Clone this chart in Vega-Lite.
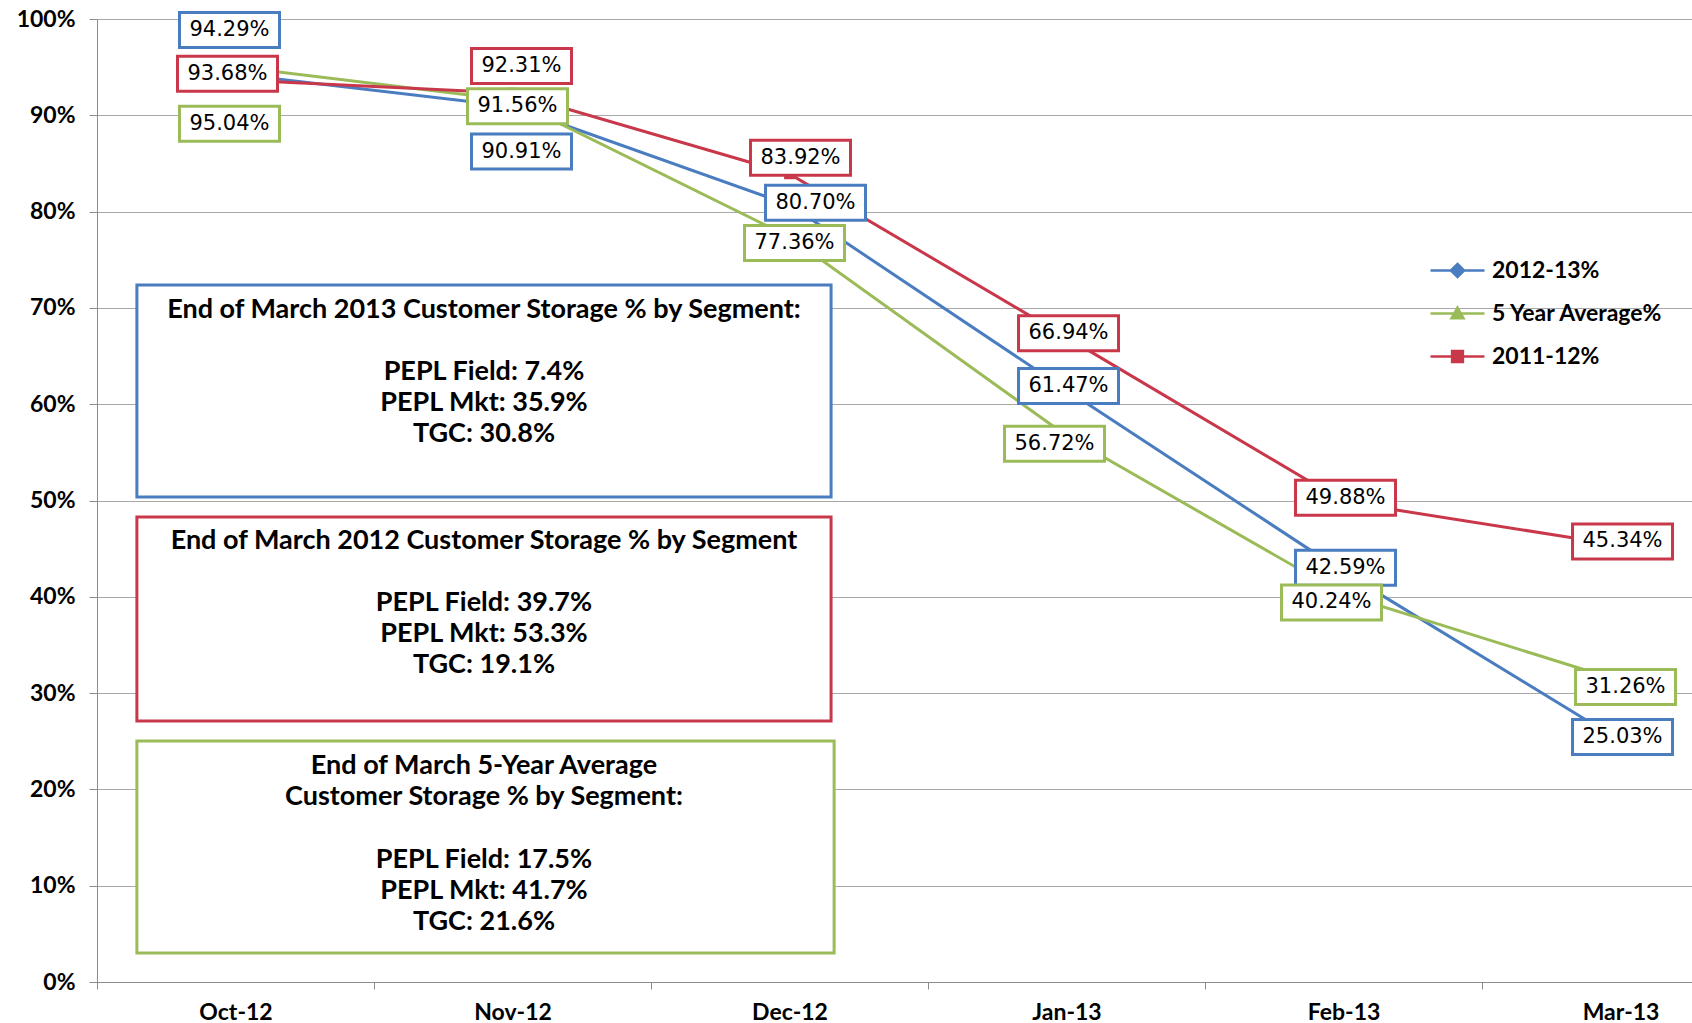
{
  "$schema": "https://vega.github.io/schema/vega-lite/v6.json",
  "width": 1595,
  "height": 963,
  "autosize": {"type": "none"},
  "padding": {"left": 97, "top": 19, "right": 0, "bottom": 41},
  "background": "white",
  "config": {"view": {"stroke": null}, "font": "Lato", "axis": {"title": null}},
  "datasets": {
    "storage": [
      {"month": "Oct-12", "i": 0, "series": "2012-13%", "value": 0.9429},
      {"month": "Nov-12", "i": 1, "series": "2012-13%", "value": 0.9091},
      {"month": "Dec-12", "i": 2, "series": "2012-13%", "value": 0.8070},
      {"month": "Jan-13", "i": 3, "series": "2012-13%", "value": 0.6147},
      {"month": "Feb-13", "i": 4, "series": "2012-13%", "value": 0.4259},
      {"month": "Mar-13", "i": 5, "series": "2012-13%", "value": 0.2503},
      {"month": "Oct-12", "i": 0, "series": "5 Year Average%", "value": 0.9504},
      {"month": "Nov-12", "i": 1, "series": "5 Year Average%", "value": 0.9156},
      {"month": "Dec-12", "i": 2, "series": "5 Year Average%", "value": 0.7736},
      {"month": "Jan-13", "i": 3, "series": "5 Year Average%", "value": 0.5672},
      {"month": "Feb-13", "i": 4, "series": "5 Year Average%", "value": 0.4024},
      {"month": "Mar-13", "i": 5, "series": "5 Year Average%", "value": 0.3126},
      {"month": "Oct-12", "i": 0, "series": "2011-12%", "value": 0.9368},
      {"month": "Nov-12", "i": 1, "series": "2011-12%", "value": 0.9231},
      {"month": "Dec-12", "i": 2, "series": "2011-12%", "value": 0.8392},
      {"month": "Jan-13", "i": 3, "series": "2011-12%", "value": 0.6694},
      {"month": "Feb-13", "i": 4, "series": "2011-12%", "value": 0.4988},
      {"month": "Mar-13", "i": 5, "series": "2011-12%", "value": 0.4534}
    ]
  },
  "data": {"name": "storage"},
  "layer": [
    {
      "mark": {"type": "line", "strokeWidth": 3},
      "encoding": {
        "x": {
          "field": "i", "type": "quantitative",
          "scale": {"domain": [-0.5, 5.258], "nice": false, "zero": false},
          "axis": {
            "values": [-0.5, 0.5, 1.5, 2.5, 3.5, 4.5],
            "labelExpr": "['Oct-12','Nov-12','Dec-12','Jan-13','Feb-13','Mar-13'][round(datum.value + 0.5)]",
            "labelOffset": 138.5, "labelFlush": false, "labelOverlap": false, "labelBound": false,
            "labelFont": "Lato", "labelFontWeight": "bold", "labelFontSize": 23, "labelColor": "#000000",
            "labelBaseline": "top", "labelPadding": 12,
            "tickSize": 7, "tickColor": "#8C8C8C", "domainColor": "#8C8C8C", "grid": false
          }
        },
        "y": {
          "field": "value", "type": "quantitative",
          "scale": {"domain": [0, 1], "nice": false, "zero": true},
          "axis": {
            "values": [0, 0.1, 0.2, 0.3, 0.4, 0.5, 0.6, 0.7, 0.8, 0.9, 1],
            "format": ".0%", "labelFont": "Lato", "labelFontWeight": "bold", "labelFontSize": 23,
            "labelColor": "#000000", "labelPadding": 14, "tickSize": 8, "tickColor": "#8C8C8C",
            "domainColor": "#8C8C8C", "grid": true, "gridColor": "#A8A8A8", "gridWidth": 1
          }
        },
        "stroke": {
          "field": "series", "legend": null,
          "scale": {"range": ["#C8384A", "#4A7CC0", "#9BBB59"]}
        }
      }
    },
    {
      "data": {"values": [
        {"part": "title", "t": ["End of March 2013 Customer Storage % by Segment:"]},
        {"part": "body", "t": ["PEPL Field: 7.4%", "PEPL Mkt: 35.9%", "TGC: 30.8%"]}
      ]},
      "layer": [
        {"transform": [{"filter": "datum.part == 'title'"}],
         "mark": {"type": "rect", "fill": "white", "stroke": "#4A7CC0", "strokeWidth": 3},
         "encoding": {"x": {"datum": -0.356, "type": "quantitative"}, "x2": {"datum": 2.150}, "y": {"datum": 0.7238, "type": "quantitative"}, "y2": {"datum": 0.5036}}},
        {"transform": [{"filter": "datum.part == 'title'"}],
         "mark": {"type": "text", "font": "Lato", "fontWeight": "bold", "fontSize": 27, "lineHeight": 31, "baseline": "middle", "align": "center", "color": "#000000"},
         "encoding": {"x": {"datum": 0.897, "type": "quantitative"}, "y": {"datum": 0.6978, "type": "quantitative"}, "text": {"field": "t"}}},
        {"transform": [{"filter": "datum.part == 'body'"}],
         "mark": {"type": "text", "font": "Lato", "fontWeight": "bold", "fontSize": 27, "lineHeight": 31, "baseline": "middle", "align": "center", "color": "#000000"},
         "encoding": {"x": {"datum": 0.897, "type": "quantitative"}, "y": {"datum": 0.6334, "type": "quantitative"}, "text": {"field": "t"}}}
      ]
    },
    {
      "data": {"values": [
        {"part": "title", "t": ["End of March 2012 Customer Storage % by Segment"]},
        {"part": "body", "t": ["PEPL Field: 39.7%", "PEPL Mkt: 53.3%", "TGC: 19.1%"]}
      ]},
      "layer": [
        {"transform": [{"filter": "datum.part == 'title'"}],
         "mark": {"type": "rect", "fill": "white", "stroke": "#C8384A", "strokeWidth": 3},
         "encoding": {"x": {"datum": -0.356, "type": "quantitative"}, "x2": {"datum": 2.150}, "y": {"datum": 0.4829, "type": "quantitative"}, "y2": {"datum": 0.2710}}},
        {"transform": [{"filter": "datum.part == 'title'"}],
         "mark": {"type": "text", "font": "Lato", "fontWeight": "bold", "fontSize": 27, "lineHeight": 31, "baseline": "middle", "align": "center", "color": "#000000"},
         "encoding": {"x": {"datum": 0.897, "type": "quantitative"}, "y": {"datum": 0.4579, "type": "quantitative"}, "text": {"field": "t"}}},
        {"transform": [{"filter": "datum.part == 'body'"}],
         "mark": {"type": "text", "font": "Lato", "fontWeight": "bold", "fontSize": 27, "lineHeight": 31, "baseline": "middle", "align": "center", "color": "#000000"},
         "encoding": {"x": {"datum": 0.897, "type": "quantitative"}, "y": {"datum": 0.3936, "type": "quantitative"}, "text": {"field": "t"}}}
      ]
    },
    {
      "data": {"values": [
        {"part": "title", "t": ["End of March 5-Year Average", "Customer Storage % by Segment:"]},
        {"part": "body", "t": ["PEPL Field: 17.5%", "PEPL Mkt: 41.7%", "TGC: 21.6%"]}
      ]},
      "layer": [
        {"transform": [{"filter": "datum.part == 'title'"}],
         "mark": {"type": "rect", "fill": "white", "stroke": "#9BBB59", "strokeWidth": 3},
         "encoding": {"x": {"datum": -0.356, "type": "quantitative"}, "x2": {"datum": 2.161}, "y": {"datum": 0.2503, "type": "quantitative"}, "y2": {"datum": 0.0301}}},
        {"transform": [{"filter": "datum.part == 'title'"}],
         "mark": {"type": "text", "font": "Lato", "fontWeight": "bold", "fontSize": 27, "lineHeight": 31, "baseline": "middle", "align": "center", "color": "#000000"},
         "encoding": {"x": {"datum": 0.897, "type": "quantitative"}, "y": {"datum": 0.2243, "type": "quantitative"}, "text": {"field": "t"}}},
        {"transform": [{"filter": "datum.part == 'body'"}],
         "mark": {"type": "text", "font": "Lato", "fontWeight": "bold", "fontSize": 27, "lineHeight": 31, "baseline": "middle", "align": "center", "color": "#000000"},
         "encoding": {"x": {"datum": 0.897, "type": "quantitative"}, "y": {"datum": 0.1267, "type": "quantitative"}, "text": {"field": "t"}}}
      ]
    },
    {
      "mark": {"type": "point", "filled": true, "size": 144, "opacity": 1},
      "encoding": {
        "x": {"field": "i", "type": "quantitative"},
        "y": {"field": "value", "type": "quantitative"},
        "color": {
          "field": "series", "title": null,
          "scale": {"domain": ["2012-13%", "5 Year Average%", "2011-12%"], "range": ["#4A7CC0", "#9BBB59", "#C8384A"]},
          "legend": {
            "orient": "none", "legendX": 1349, "legendY": 240, "padding": 0,
            "labelFont": "Lato", "labelFontSize": 23, "labelFontWeight": "bold", "labelColor": "#000000", "labelLimit": 0,
            "symbolSize": 144, "labelOffset": 23, "rowPadding": 19, "symbolStrokeWidth": 2.5, "symbolOpacity": 1,
            "encode": {"symbols": {"update": {"stroke": {"scale": "color", "field": "value"}, "strokeWidth": {"value": 2.5}}}}
          }
        },
        "shape": {
          "field": "series", "title": null,
          "scale": {
            "domain": ["2012-13%", "5 Year Average%", "2011-12%"],
            "range": ["M-4.5,0H4.5M0,-1.1L1.1,0L0,1.1L-1.1,0Z", "M-4.5,0H4.5M0,-1L1,0.8H-1Z", "M-4.5,0H4.5M-0.9,-0.9H0.9V0.9H-0.9Z"]
          }
        }
      }
    },
    {
      "transform": [{"filter": "(datum.series == '2012-13%' || datum.series == '2011-12%') && datum.i >= 3"}],
      "layer": [
        {"mark": {"type": "point", "shape": "M-2.857,-1H2.857V1H-2.857Z", "size": 1225, "fill": "white", "filled": false, "opacity": 1, "strokeWidth": 3, "xOffset": 2, "yOffset": -4},
         "encoding": {"x": {"field": "i", "type": "quantitative"}, "y": {"field": "value", "type": "quantitative"}, "stroke": {"field": "series", "legend": null}}},
        {"mark": {"type": "text", "font": "DejaVu Sans", "fontSize": 21, "color": "#000000", "xOffset": 2, "yOffset": -4},
         "encoding": {"x": {"field": "i", "type": "quantitative"}, "y": {"field": "value", "type": "quantitative"}, "text": {"field": "value", "format": ".2%"}}}
      ]
    },
    {
      "transform": [{"filter": "datum.series == '5 Year Average%' && (datum.i == 1 || datum.i == 2 || datum.i == 5)"}],
      "layer": [
        {"mark": {"type": "point", "shape": "M-2.857,-1H2.857V1H-2.857Z", "size": 1225, "fill": "white", "filled": false, "opacity": 1, "strokeWidth": 3, "xOffset": 5, "yOffset": 6},
         "encoding": {"x": {"field": "i", "type": "quantitative"}, "y": {"field": "value", "type": "quantitative"}, "stroke": {"field": "series", "legend": null}}},
        {"mark": {"type": "text", "font": "DejaVu Sans", "fontSize": 21, "color": "#000000", "xOffset": 5, "yOffset": 6},
         "encoding": {"x": {"field": "i", "type": "quantitative"}, "y": {"field": "value", "type": "quantitative"}, "text": {"field": "value", "format": ".2%"}}}
      ]
    },
    {
      "transform": [{"filter": "datum.series == '5 Year Average%' && (datum.i == 3 || datum.i == 4)"}],
      "layer": [
        {"mark": {"type": "point", "shape": "M-2.857,-1H2.857V1H-2.857Z", "size": 1225, "fill": "white", "filled": false, "opacity": 1, "strokeWidth": 3, "xOffset": -12, "yOffset": 8},
         "encoding": {"x": {"field": "i", "type": "quantitative"}, "y": {"field": "value", "type": "quantitative"}, "stroke": {"field": "series", "legend": null}}},
        {"mark": {"type": "text", "font": "DejaVu Sans", "fontSize": 21, "color": "#000000", "xOffset": -12, "yOffset": 8},
         "encoding": {"x": {"field": "i", "type": "quantitative"}, "y": {"field": "value", "type": "quantitative"}, "text": {"field": "value", "format": ".2%"}}}
      ]
    },
    {
      "transform": [{"filter": "datum.series == '5 Year Average%' && datum.i == 0"}],
      "layer": [
        {"mark": {"type": "point", "shape": "M-2.857,-1H2.857V1H-2.857Z", "size": 1225, "fill": "white", "filled": false, "opacity": 1, "strokeWidth": 3, "xOffset": -6, "yOffset": 57},
         "encoding": {"x": {"field": "i", "type": "quantitative"}, "y": {"field": "value", "type": "quantitative"}, "stroke": {"field": "series", "legend": null}}},
        {"mark": {"type": "text", "font": "DejaVu Sans", "fontSize": 21, "color": "#000000", "xOffset": -6, "yOffset": 57},
         "encoding": {"x": {"field": "i", "type": "quantitative"}, "y": {"field": "value", "type": "quantitative"}, "text": {"field": "value", "format": ".2%"}}}
      ]
    },
    {
      "transform": [{"filter": "datum.series == '2012-13%' && datum.i == 0"}],
      "layer": [
        {"mark": {"type": "point", "shape": "M-2.857,-1H2.857V1H-2.857Z", "size": 1225, "fill": "white", "filled": false, "opacity": 1, "strokeWidth": 3, "xOffset": -6, "yOffset": -44},
         "encoding": {"x": {"field": "i", "type": "quantitative"}, "y": {"field": "value", "type": "quantitative"}, "stroke": {"field": "series", "legend": null}}},
        {"mark": {"type": "text", "font": "DejaVu Sans", "fontSize": 21, "color": "#000000", "xOffset": -6, "yOffset": -44},
         "encoding": {"x": {"field": "i", "type": "quantitative"}, "y": {"field": "value", "type": "quantitative"}, "text": {"field": "value", "format": ".2%"}}}
      ]
    },
    {
      "transform": [{"filter": "datum.series == '2012-13%' && datum.i == 1"}],
      "layer": [
        {"mark": {"type": "point", "shape": "M-2.857,-1H2.857V1H-2.857Z", "size": 1225, "fill": "white", "filled": false, "opacity": 1, "strokeWidth": 3, "xOffset": 9, "yOffset": 45},
         "encoding": {"x": {"field": "i", "type": "quantitative"}, "y": {"field": "value", "type": "quantitative"}, "stroke": {"field": "series", "legend": null}}},
        {"mark": {"type": "text", "font": "DejaVu Sans", "fontSize": 21, "color": "#000000", "xOffset": 9, "yOffset": 45},
         "encoding": {"x": {"field": "i", "type": "quantitative"}, "y": {"field": "value", "type": "quantitative"}, "text": {"field": "value", "format": ".2%"}}}
      ]
    },
    {
      "transform": [{"filter": "datum.series == '2012-13%' && datum.i == 2"}],
      "layer": [
        {"mark": {"type": "point", "shape": "M-2.857,-1H2.857V1H-2.857Z", "size": 1225, "fill": "white", "filled": false, "opacity": 1, "strokeWidth": 3, "xOffset": 26, "yOffset": -2},
         "encoding": {"x": {"field": "i", "type": "quantitative"}, "y": {"field": "value", "type": "quantitative"}, "stroke": {"field": "series", "legend": null}}},
        {"mark": {"type": "text", "font": "DejaVu Sans", "fontSize": 21, "color": "#000000", "xOffset": 26, "yOffset": -2},
         "encoding": {"x": {"field": "i", "type": "quantitative"}, "y": {"field": "value", "type": "quantitative"}, "text": {"field": "value", "format": ".2%"}}}
      ]
    },
    {
      "transform": [{"filter": "datum.series == '2011-12%' && datum.i == 0"}],
      "layer": [
        {"mark": {"type": "point", "shape": "M-2.857,-1H2.857V1H-2.857Z", "size": 1225, "fill": "white", "filled": false, "opacity": 1, "strokeWidth": 3, "xOffset": -8, "yOffset": -6},
         "encoding": {"x": {"field": "i", "type": "quantitative"}, "y": {"field": "value", "type": "quantitative"}, "stroke": {"field": "series", "legend": null}}},
        {"mark": {"type": "text", "font": "DejaVu Sans", "fontSize": 21, "color": "#000000", "xOffset": -8, "yOffset": -6},
         "encoding": {"x": {"field": "i", "type": "quantitative"}, "y": {"field": "value", "type": "quantitative"}, "text": {"field": "value", "format": ".2%"}}}
      ]
    },
    {
      "transform": [{"filter": "datum.series == '2011-12%' && datum.i == 1"}],
      "layer": [
        {"mark": {"type": "point", "shape": "M-2.857,-1H2.857V1H-2.857Z", "size": 1225, "fill": "white", "filled": false, "opacity": 1, "strokeWidth": 3, "xOffset": 9, "yOffset": -27},
         "encoding": {"x": {"field": "i", "type": "quantitative"}, "y": {"field": "value", "type": "quantitative"}, "stroke": {"field": "series", "legend": null}}},
        {"mark": {"type": "text", "font": "DejaVu Sans", "fontSize": 21, "color": "#000000", "xOffset": 9, "yOffset": -27},
         "encoding": {"x": {"field": "i", "type": "quantitative"}, "y": {"field": "value", "type": "quantitative"}, "text": {"field": "value", "format": ".2%"}}}
      ]
    },
    {
      "transform": [{"filter": "datum.series == '2011-12%' && datum.i == 2"}],
      "layer": [
        {"mark": {"type": "point", "shape": "M-2.857,-1H2.857V1H-2.857Z", "size": 1225, "fill": "white", "filled": false, "opacity": 1, "strokeWidth": 3, "xOffset": 11, "yOffset": -16},
         "encoding": {"x": {"field": "i", "type": "quantitative"}, "y": {"field": "value", "type": "quantitative"}, "stroke": {"field": "series", "legend": null}}},
        {"mark": {"type": "text", "font": "DejaVu Sans", "fontSize": 21, "color": "#000000", "xOffset": 11, "yOffset": -16},
         "encoding": {"x": {"field": "i", "type": "quantitative"}, "y": {"field": "value", "type": "quantitative"}, "text": {"field": "value", "format": ".2%"}}}
      ]
    }
  ]
}
